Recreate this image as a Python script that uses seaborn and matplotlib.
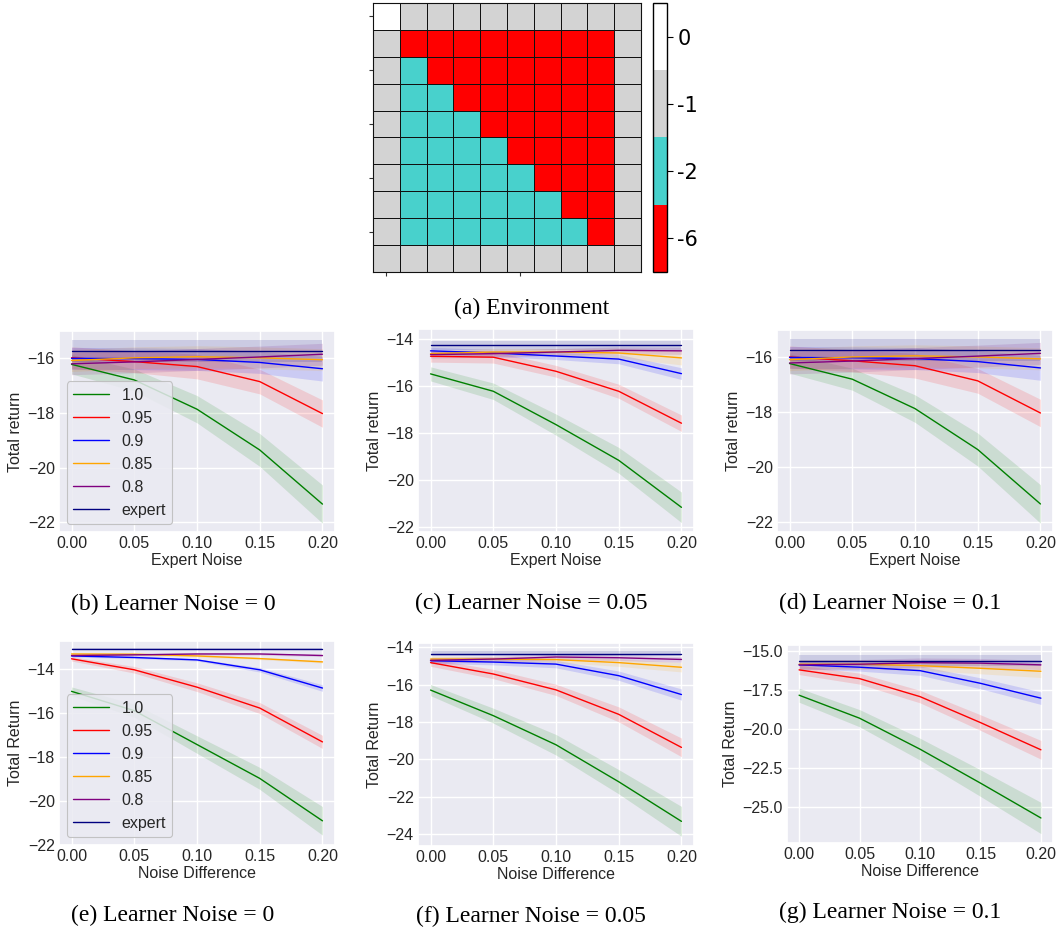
import numpy as np
import pandas as pd
import matplotlib
matplotlib.use("Agg")
import matplotlib.pyplot as plt
from matplotlib.colors import ListedColormap
import seaborn as sns

# ---------------- data ----------------
noise = [0.00, 0.05, 0.10, 0.15, 0.20]
series = ["1.0", "0.95", "0.9", "0.85", "0.8", "expert"]
colors = ["green", "red", "blue", "orange", "purple", "navy"]

# Environment grid (values: 0 start, -1 border, -2 safe, -6 hazard)
env_levels = [-6, -2, -1, 0]
env_labels = ["-6", "-2", "-1", "0"]
env_colors = ["#ff0000", "#48d1cc", "#d3d3d3", "#ffffff"]

# (b) Learner Noise = 0, x = Expert Noise
b_mean = {
    "1.0":    [-16.22, -16.79, -17.86, -19.35, -21.33],
    "0.95":   [-15.98, -16.12, -16.30, -16.85, -18.02],
    "0.9":    [-16.00, -16.01, -16.04, -16.15, -16.38],
    "0.85":   [-16.08, -15.98, -15.94, -15.98, -16.05],
    "0.8":    [-16.20, -16.13, -16.04, -15.95, -15.85],
    "expert": [-15.72, -15.72, -15.72, -15.72, -15.72],
}
b_err = {
    "1.0":    [0.35, 0.40, 0.50, 0.60, 0.70],
    "0.95":   [0.40, 0.40, 0.45, 0.45, 0.50],
    "0.9":    [0.40, 0.40, 0.40, 0.40, 0.45],
    "0.85":   [0.40, 0.40, 0.40, 0.40, 0.40],
    "0.8":    [0.40, 0.40, 0.40, 0.40, 0.40],
    "expert": [0.40, 0.40, 0.40, 0.40, 0.40],
}
# (c) Learner Noise = 0.05
c_mean = {
    "1.0":    [-15.50, -16.24, -17.66, -19.18, -21.18],
    "0.95":   [-14.75, -14.79, -15.39, -16.24, -17.60],
    "0.9":    [-14.52, -14.61, -14.74, -14.87, -15.49],
    "0.85":   [-14.64, -14.57, -14.57, -14.61, -14.82],
    "0.8":    [-14.68, -14.64, -14.57, -14.50, -14.52],
    "expert": [-14.28, -14.28, -14.28, -14.28, -14.28],
}
c_err = {
    "1.0":    [0.30, 0.35, 0.45, 0.55, 0.65],
    "0.95":   [0.25, 0.25, 0.25, 0.30, 0.35],
    "0.9":    [0.15, 0.15, 0.15, 0.20, 0.25],
    "0.85":   [0.15, 0.15, 0.15, 0.20, 0.30],
    "0.8":    [0.15, 0.15, 0.15, 0.15, 0.15],
    "expert": [0.20, 0.20, 0.20, 0.20, 0.20],
}
# (d) Learner Noise = 0.1 (same curves as shown in (b))
d_mean = {k: list(v) for k, v in b_mean.items()}
d_err = {k: list(v) for k, v in b_err.items()}
# (e) Learner Noise = 0, x = Noise Difference
e_mean = {
    "1.0":    [-15.01, -15.89, -17.43, -18.97, -20.90],
    "0.95":   [-13.53, -14.03, -14.82, -15.77, -17.31],
    "0.9":    [-13.40, -13.47, -13.58, -14.03, -14.86],
    "0.85":   [-13.31, -13.32, -13.40, -13.52, -13.67],
    "0.8":    [-13.38, -13.35, -13.31, -13.31, -13.38],
    "expert": [-13.08, -13.08, -13.08, -13.08, -13.08],
}
e_err = {
    "1.0":    [0.20, 0.30, 0.40, 0.50, 0.65],
    "0.95":   [0.10, 0.15, 0.20, 0.25, 0.30],
    "0.9":    [0.05, 0.05, 0.05, 0.10, 0.15],
    "0.85":   [0.05, 0.05, 0.05, 0.05, 0.05],
    "0.8":    [0.05, 0.05, 0.05, 0.05, 0.05],
    "expert": [0.03, 0.03, 0.03, 0.03, 0.03],
}
# (f) Learner Noise = 0.05
f_mean = {
    "1.0":    [-16.29, -17.66, -19.22, -21.20, -23.32],
    "0.95":   [-14.82, -15.43, -16.28, -17.59, -19.36],
    "0.9":    [-14.72, -14.79, -14.90, -15.52, -16.53],
    "0.85":   [-14.63, -14.63, -14.66, -14.82, -15.07],
    "0.8":    [-14.70, -14.63, -14.52, -14.56, -14.65],
    "expert": [-14.34, -14.34, -14.34, -14.34, -14.34],
}
f_err = {
    "1.0":    [0.30, 0.40, 0.55, 0.65, 0.80],
    "0.95":   [0.20, 0.25, 0.30, 0.40, 0.50],
    "0.9":    [0.15, 0.15, 0.20, 0.25, 0.30],
    "0.85":   [0.15, 0.15, 0.15, 0.20, 0.25],
    "0.8":    [0.15, 0.15, 0.15, 0.15, 0.15],
    "expert": [0.15, 0.15, 0.15, 0.15, 0.15],
}
# (g) Learner Noise = 0.1
g_mean = {
    "1.0":    [-17.85, -19.32, -21.30, -23.47, -25.70],
    "0.95":   [-16.23, -16.79, -17.94, -19.60, -21.34],
    "0.9":    [-15.91, -16.06, -16.28, -17.09, -18.04],
    "0.85":   [-15.87, -15.87, -15.96, -16.13, -16.32],
    "0.8":    [-15.91, -15.87, -15.77, -15.80, -15.91],
    "expert": [-15.64, -15.64, -15.64, -15.64, -15.64],
}
g_err = {
    "1.0":    [0.45, 0.55, 0.70, 0.85, 1.00],
    "0.95":   [0.30, 0.35, 0.40, 0.50, 0.60],
    "0.9":    [0.25, 0.25, 0.30, 0.35, 0.40],
    "0.85":   [0.30, 0.30, 0.30, 0.35, 0.40],
    "0.8":    [0.30, 0.30, 0.30, 0.30, 0.30],
    "expert": [0.35, 0.35, 0.35, 0.35, 0.35],
}

# ---------------- figure ----------------
sns.set_theme(style="darkgrid")
plt.rcParams["font.family"] = ["Liberation Sans", "DejaVu Sans"]

W, H = 1062, 930
fig = plt.figure(figsize=(W / 100, H / 100), dpi=100)


def box(x0, y0, x1, y1):
    return [x0 / W, 1 - y1 / H, (x1 - x0) / W, (y1 - y0) / H]


# ---- (a) environment heatmap ----
n = 10
grid = np.full((n, n), 2)  # border (-1)
grid[0, 0] = 3  # start (0)
for r in range(1, n - 1):
    for c in range(1, n - 1):
        grid[r, c] = 0 if c >= r else 1

ax_env = fig.add_axes(box(373, 3, 641, 272))
cax = fig.add_axes(box(653, 3, 667, 272))
sns.heatmap(grid, ax=ax_env, cbar_ax=cax, cmap=ListedColormap(env_colors),
            vmin=-0.5, vmax=3.5, linewidths=0.6, linecolor="#111111",
            xticklabels=False, yticklabels=False)
for sp in ax_env.spines.values():
    sp.set_visible(True)
    sp.set_edgecolor("#111111")
    sp.set_linewidth(0.8)
ax_env.set_yticks([0.5, 2.5, 4.5, 6.5, 8.5])
ax_env.set_xticks([0.5, 5.5])
ax_env.tick_params(left=True, bottom=True, length=3, width=0.8, color="#333333")
cb = ax_env.collections[0].colorbar
cb.set_ticks([0, 1, 2, 3])
cb.set_ticklabels(env_labels)
cb.outline.set_visible(True)
cb.outline.set_edgecolor("black")
cb.outline.set_linewidth(1)
cax.tick_params(right=True, length=4, width=0.8, color="black", labelsize=15,
                labelcolor="black")
for t in cax.get_yticklabels():
    t.set_family("DejaVu Sans")

# ---- line panels ----
panels = [
    ("b", b_mean, b_err, box(59, 331, 335, 532), (-22.35, -15.0), [-22, -20, -18, -16], "Expert Noise", "Total return", True),
    ("c", c_mean, c_err, box(418, 329, 694, 532), (-22.23, -13.59), [-22, -20, -18, -16, -14], "Expert Noise", "Total return", False),
    ("d", d_mean, d_err, box(777, 330, 1053, 532), (-22.35, -15.0), [-22, -20, -18, -16], "Expert Noise", "Total return", False),
    ("e", e_mean, e_err, box(59, 641, 335, 845), (-21.95, -12.72), [-22, -20, -18, -16, -14], "Noise Difference", "Total Return", True),
    ("f", f_mean, f_err, box(418, 643, 694, 846), (-24.64, -13.77), [-24, -22, -20, -18, -16, -14], "Noise Difference", "Total Return", False),
    ("g", g_mean, g_err, box(787, 645, 1053, 843), (-27.3, -14.64), [-25.0, -22.5, -20.0, -17.5, -15.0], "Noise Difference", "Total Return", False),
]

for key, means, errs, rect, ylim, yticks, xlabel, ylabel, show_leg in panels:
    ax = fig.add_axes(rect)
    for s, col in zip(series, colors):
        m = np.array(means[s])
        e = np.array(errs[s])
        df = pd.DataFrame({"x": noise, "y": m})
        sns.lineplot(data=df, x="x", y="y", ax=ax, color=col, linewidth=1.0, label=s)
        ax.fill_between(noise, m - e, m + e, color=col, alpha=0.13, linewidth=0)
    ax.set_ylim(*ylim)
    ax.set_xlim(-0.01, 0.21)
    ax.set_xticks(noise)
    ax.set_xticklabels([f"{v:.2f}" for v in noise])
    ax.set_yticks(yticks)
    if key == "g":
        ax.set_yticklabels([f"\u2212{abs(v):.1f}" for v in yticks])
    else:
        ax.set_yticklabels([f"\u2212{abs(v):.0f}" for v in yticks])
    ax.tick_params(labelsize=11.5, labelcolor="#262626", pad=3, length=0)
    ax.set_xlabel(xlabel, fontsize=11.5, color="#262626", labelpad=1)
    ax.set_ylabel(ylabel, fontsize=11.5, color="#262626", labelpad=3)
    if show_leg:
        leg = ax.legend(loc="lower left", fontsize=11.5, frameon=True,
                        facecolor="#EAEAF2", edgecolor="#bbbbbb", framealpha=0.85,
                        handlelength=2.2, borderaxespad=0.5)
        leg.get_frame().set_linewidth(0.8)
    else:
        if ax.get_legend():
            ax.get_legend().remove()

# ---- captions ----
captions = [
    ("(a) Environment", 532, 308),
    ("(b) Learner Noise = 0", 173, 604),
    ("(c) Learner Noise = 0.05", 531, 603),
    ("(d) Learner Noise = 0.1", 890, 603),
    ("(e) Learner Noise = 0", 173, 915),
    ("(f) Learner Noise = 0.05", 531, 916),
    ("(g) Learner Noise = 0.1", 890, 912),
]
for txt, cx, cy in captions:
    fig.text(cx / W, 1 - cy / H, txt, ha="center", va="center",
             fontsize=17, family=["Liberation Serif", "DejaVu Serif"], color="black")

fig.savefig("out.png", dpi=100, facecolor="white")
